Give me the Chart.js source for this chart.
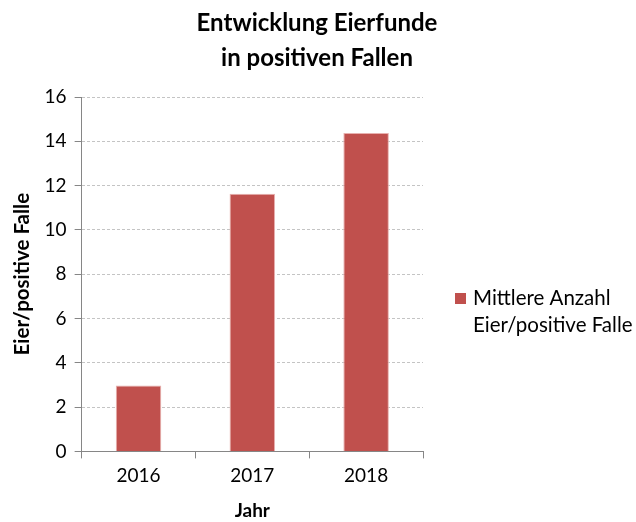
<!DOCTYPE html>
<html>
<head>
<meta charset="utf-8">
<script src="https://cdn.jsdelivr.net/npm/chart.js@4.4.0/dist/chart.umd.min.js"></script>
<style>
  html, body { margin: 0; padding: 0; background: #fff; }
  #wrap { width: 636px; height: 522px; }
</style>
</head>
<body>
<div id="wrap"><canvas id="EierChart"></canvas></div>
<script>
const chartTitle = ["Entwicklung Eierfunde", "in positiven Fallen"];
const years = ["2016", "2017", "2018"];
const eggsPerTrap = [2.97, 11.63, 14.38];
const seriesLabel = ["Mittlere Anzahl", "Eier/positive Falle"];
const yTitle = "Eier/positive Falle";
const xTitle = "Jahr";

const fontFamily = "Lato, 'DejaVu Sans', sans-serif";

// title and legend drawn by hand so the title stays centred on the whole canvas
const sidePlugin = {
    id: 'sideParts',
    afterDraw(chart) {
        const ctx = chart.ctx;
        ctx.save();
        ctx.fillStyle = '#000';
        ctx.textAlign = 'center';
        ctx.textBaseline = 'middle';
        ctx.font = "bold 24px " + fontFamily;
        chartTitle.forEach((line, i) => ctx.fillText(line, 317, 23 + i * 35));

        const ds = chart.data.datasets[0];
        ctx.fillStyle = ds.backgroundColor;
        ctx.fillRect(455, 293, 11, 11);
        ctx.fillStyle = '#000';
        ctx.textAlign = 'left';
        ctx.font = "20.5px " + fontFamily;
        ds.label.forEach((line, i) => ctx.fillText(line, 473, 298 + i * 27));
        ctx.restore();
    }
};

let options = {
    maintainAspectRatio: false,
    responsive: true,
    animation: false,
    layout: {
        padding: {top: 97, right: 213, left: 10, bottom: 0}
    },
    scales: {
        x: {
            grid: {
                drawOnChartArea: false,
                tickLength: 7,
                tickColor: '#868686'
            },
            border: {color: '#868686'},
            ticks: {
                color: '#000',
                font: {family: fontFamily, size: 19},
                padding: 6
            },
            title: {
                display: true,
                text: xTitle,
                color: '#000',
                font: {family: fontFamily, size: 19, weight: 'bold'},
                padding: {top: 6, bottom: 0}
            }
        },
        y: {
            min: 0,
            max: 16,
            ticks: {
                stepSize: 2,
                color: '#000',
                font: {family: fontFamily, size: 19},
                padding: 8
            },
            grid: {
                color: '#c4c4c4',
                tickLength: 7,
                tickColor: '#868686'
            },
            border: {color: '#868686', dash: [3, 2]},
            title: {
                display: true,
                text: yTitle,
                color: '#000',
                font: {family: fontFamily, size: 20.5, weight: 'bold'},
                padding: {top: 0, bottom: 2}
            }
        }
    },
    plugins: {
        legend: {display: false},
        title: {display: false},
        tooltip: {enabled: false}
    }
};

let EierChart = new Chart(document.getElementById("EierChart"), {
    type: 'bar',
    data: {
        labels: years,
        datasets: [
            {
                label: seriesLabel,
                data: eggsPerTrap,
                backgroundColor: '#c0504d',
                borderColor: '#e8b0ae',
                borderWidth: 1,
                categoryPercentage: 1,
                barPercentage: 0.4
            }
        ]
    },
    options: options,
    plugins: [sidePlugin]
});
</script>
</body>
</html>
